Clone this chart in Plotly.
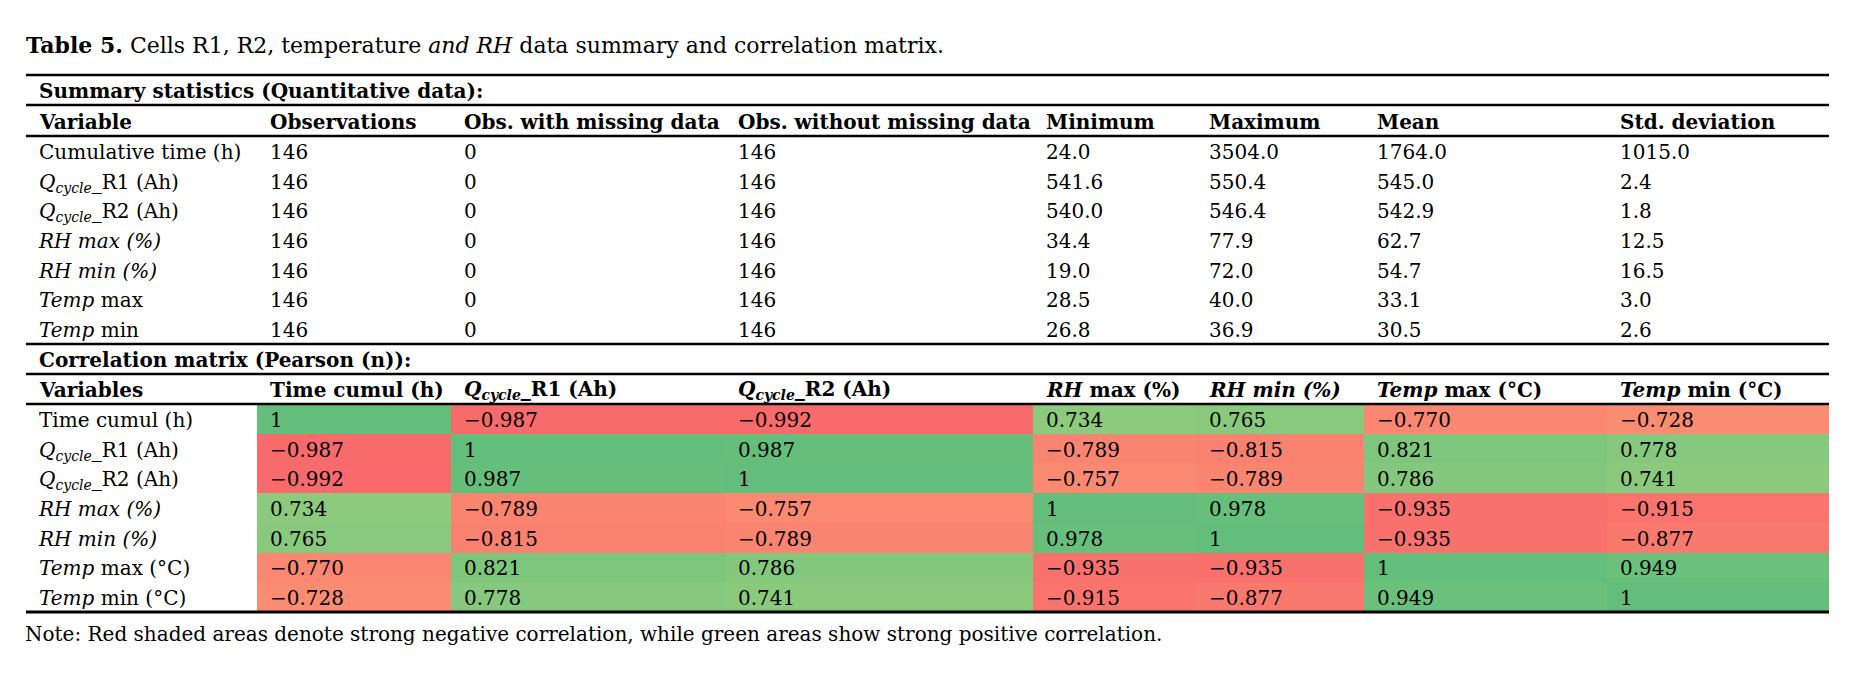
import plotly.graph_objects as go

# ---- data ----
row_labels_sum = ["Cumulative time (h)", "<i>Q<sub>cycle</sub></i>_R1 (Ah)", "<i>Q<sub>cycle</sub></i>_R2 (Ah)",
                  "<i>RH max (%)</i>", "<i>RH min (%)</i>", "<i>Temp</i> max", "<i>Temp</i> min"]
observations = [146, 146, 146, 146, 146, 146, 146]
obs_missing = [0, 0, 0, 0, 0, 0, 0]
obs_without = [146, 146, 146, 146, 146, 146, 146]
minimum = [24.0, 541.6, 540.0, 34.4, 19.0, 28.5, 26.8]
maximum = [3504.0, 550.4, 546.4, 77.9, 72.0, 40.0, 36.9]
mean = [1764.0, 545.0, 542.9, 62.7, 54.7, 33.1, 30.5]
std_dev = [1015.0, 2.4, 1.8, 12.5, 16.5, 3.0, 2.6]

sum_headers = ["Variable", "Observations", "Obs. with missing data", "Obs. without missing data",
               "Minimum", "Maximum", "Mean", "Std. deviation"]

row_labels_corr = ["Time cumul (h)", "<i>Q<sub>cycle</sub></i>_R1 (Ah)", "<i>Q<sub>cycle</sub></i>_R2 (Ah)",
                   "<i>RH max (%)</i>", "<i>RH min (%)</i>", "<i>Temp</i> max (°C)", "<i>Temp</i> min (°C)"]
corr_headers = ["Variables", "Time cumul (h)", "<i>Q<sub>cycle</sub></i>_R1 (Ah)", "<i>Q<sub>cycle</sub></i>_R2 (Ah)",
                "<i>RH</i> max (%)", "<i>RH min (%)</i>", "<i>Temp</i> max (°C)", "<i>Temp</i> min (°C)"]
corr = [
    [1, -0.987, -0.992, 0.734, 0.765, -0.770, -0.728],
    [-0.987, 1, 0.987, -0.789, -0.815, 0.821, 0.778],
    [-0.992, 0.987, 1, -0.757, -0.789, 0.786, 0.741],
    [0.734, -0.789, -0.757, 1, 0.978, -0.935, -0.915],
    [0.765, -0.815, -0.789, 0.978, 1, -0.935, -0.877],
    [-0.770, 0.821, 0.786, -0.935, -0.935, 1, 0.949],
    [-0.728, 0.778, 0.741, -0.915, -0.877, 0.949, 1],
]

title = "<b>Table 5.</b> Cells R1, R2, temperature <i>and RH</i> data summary and correlation matrix."
note = "Note: Red shaded areas denote strong negative correlation, while green areas show strong positive correlation."

# ---- layout grid (page pixels) ----
W, H = 1860, 678
OFF = 8  # body margin of the html page
col_edges = [26, 257, 451, 725, 1033, 1196, 1364, 1607, 1829]
pad = 13
rh = 29.7
sum_top, sum_sec, sum_head = 75, 105, 136
corr_top, corr_sec, corr_head = 344, 374, 404
FONT = "DejaVu Serif"
FS = 20
INK = "#000"


def fmt1(v):
    return f"{v:.1f}"


def fmtc(v):
    return "1" if v == 1 else f"{v:.3f}".replace("-", "\u2212")


sum_cols = [row_labels_sum, observations, obs_missing, obs_without,
            [fmt1(v) for v in minimum], [fmt1(v) for v in maximum],
            [fmt1(v) for v in mean], [fmt1(v) for v in std_dev]]
corr_cols = [row_labels_corr] + [[fmtc(corr[i][j]) for i in range(7)] for j in range(7)]

fig = go.Figure()

# colored correlation cells
row_edges = [corr_head + rh * i for i in range(8)]
fig.add_trace(go.Heatmap(
    x=col_edges[1:], y=row_edges, z=corr,
    zmin=-1, zmax=1,
    colorscale=[[0, "#F8696B"], [0.5, "#FFEB84"], [1, "#63BE7B"]],
    showscale=False, hoverinfo="skip",
))

# cell text
for block, top in ((sum_cols, sum_head), (corr_cols, corr_head)):
    for j, col in enumerate(block):
        fig.add_trace(go.Scatter(
            x=[col_edges[j] + pad] * len(col),
            y=[top + rh * (i + 0.5) + 3 for i in range(len(col))],
            text=[str(v) for v in col],
            mode="text", textposition="middle right",
            textfont=dict(family=FONT, size=FS, color=INK),
            hoverinfo="skip", showlegend=False,
        ))

ann = []
for headers, yc in ((sum_headers, (sum_sec + sum_head) / 2), (corr_headers, (corr_sec + corr_head) / 2)):
    for j, h in enumerate(headers):
        ann.append(dict(x=col_edges[j] + pad - 2, y=yc + 1, text=f"<b>{h}</b>", xanchor="left", yanchor="middle",
                        showarrow=False, font=dict(family=FONT, size=FS, color=INK)))
for txt, yc in (("Summary statistics (Quantitative data):", (sum_top + sum_sec) / 2),
                ("Correlation matrix (Pearson (n)):", (corr_top + corr_sec) / 2)):
    ann.append(dict(x=col_edges[0] + pad - 2, y=yc + 1, text=f"<b>{txt}</b>", xanchor="left", yanchor="middle",
                    showarrow=False, font=dict(family=FONT, size=FS, color=INK)))
ann.append(dict(x=24, y=45, text=title, xanchor="left", yanchor="middle", showarrow=False,
                font=dict(family=FONT, size=22, color=INK)))
ann.append(dict(x=23, y=634, text=note, xanchor="left", yanchor="middle", showarrow=False,
                font=dict(family=FONT, size=20, color=INK)))

shapes = []
rules = [sum_top, sum_sec, sum_head, corr_top, corr_sec, corr_head, corr_head + rh * 7]
for k, yl in enumerate(rules):
    shapes.append(dict(type="line", x0=col_edges[0], x1=col_edges[-1], y0=yl, y1=yl,
                       xref="x", yref="y",
                       line=dict(color="black", width=3 if k == len(rules) - 1 else 2.5)))

fig.update_layout(
    width=W, height=H,
    margin=dict(l=0, r=0, t=0, b=0),
    paper_bgcolor="white", plot_bgcolor="white",
    xaxis=dict(range=[OFF, W + OFF], visible=False, fixedrange=True),
    yaxis=dict(range=[H + OFF, OFF], visible=False, fixedrange=True),
    annotations=ann, shapes=shapes, showlegend=False,
)

fig.write_html("out.html")
